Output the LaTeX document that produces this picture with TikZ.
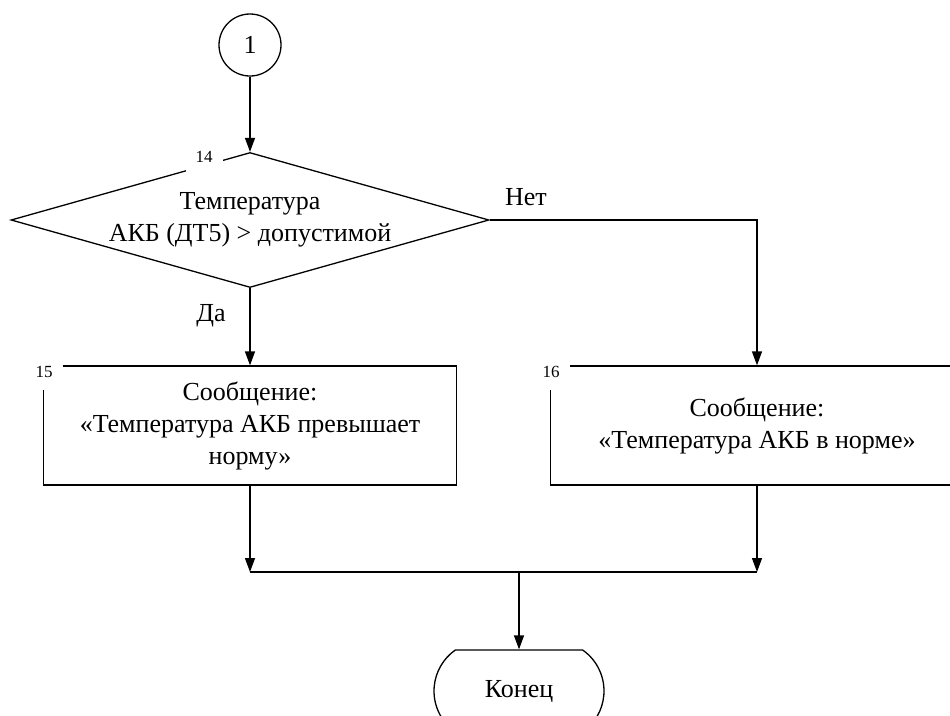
\documentclass[tikz,border=0pt]{standalone}
\usepackage{fontspec}
\setmainfont{Liberation Serif}
\usetikzlibrary{
  arrows.meta,
  shapes.geometric,
  shapes.misc,
  positioning,
  calc
}
\tikzset{
  fcnode/.style={
    draw, line width=1.3pt, align=center, inner sep=0pt,
    font=\fontsize{26}{32}\selectfont
  },
  conn/.style={fcnode, circle, minimum size=62pt},
  decision/.style={fcnode, diamond, aspect=3.54, minimum width=478pt, minimum height=135pt},
  procbox/.style={fcnode, rectangle, minimum width=413pt, minimum height=119pt},
  terminal/.style={fcnode, rounded rectangle, rounded rectangle arc length=110,
    minimum width=170pt, minimum height=82pt},
  numtag/.style={fill=white, font=\fontsize{17}{20}\selectfont, inner xsep=10pt, inner ysep=12pt},
  branchtag/.style={font=\fontsize{26}{32}\selectfont, inner sep=0pt},
  flow/.style={-{Triangle[length=14pt, width=10pt]}, line width=1.3pt},
  netline/.style={line width=1.3pt}
}

\begin{document}
\begin{tikzpicture}[x=1pt, y=-1pt]
  \useasboundingbox (0,0) rectangle (950,715);
  \clip (0,0) rectangle (950,715);
  \node[conn] (c1) at (250,45) {1};
  \node[decision] (d14) at (250,220) {Температура\\АКБ (ДТ5) > допустимой};
  \node[procbox] (b15) at (250,425.5) {Сообщение:\\«Температура АКБ превышает\\норму»};
  \node[procbox] (b16) at (757,425.5) {Сообщение:\\«Температура АКБ в норме»};
  \node[terminal] (end) at (519,691) {Конец};
  % block numbers
  \node[numtag] (t14) at (204,157) {14};
  \node[numtag] (t15) at (44,372) {15};
  \node[numtag] (t16) at (551,372) {16};
  % branches
  \draw[flow] (c1) -- (d14);
  \draw[flow] (d14.east) -| (b16.north);
  \draw[flow] (d14.south) -- (b15.north);
  \node[branchtag] (no) at (526,197) {Нет};
  \node[branchtag] (yes) at (211,316) {Да};
  % merge
  \coordinate (mrg) at (519,572);
  \coordinate (m15) at (b15.south |- mrg);
  \coordinate (m16) at (b16.south |- mrg);
  \draw[flow] (b15.south) -- (m15);
  \draw[flow] (b16.south) -- (m16);
  \draw[netline] (m15) -- (m16);
  \draw[flow] (mrg) -- (end.north);
\end{tikzpicture}
\end{document}
